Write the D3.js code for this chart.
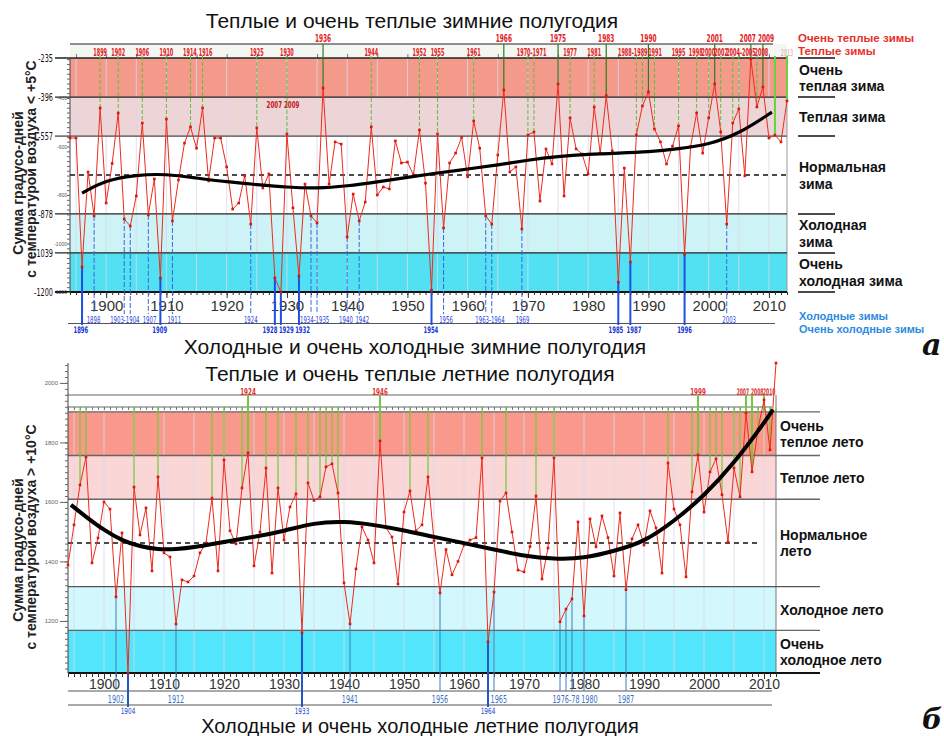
<!DOCTYPE html>
<html><head><meta charset="utf-8">
<script src="https://cdn.jsdelivr.net/npm/d3@7"></script>
<style>
body{margin:0;background:#fff;}
svg{display:block;font-family:"Liberation Sans",Arial,sans-serif;}
</style></head><body>
<svg id="chart" width="944" height="736"></svg>
<script>
// ---------- Winter half-years: degree-days with air temperature < +5°C ----------
const winterYears = d3.range(1894, 2014);
const winterValues = [
  -565, -565, -1097, -705, -886, -441, -833, -670, -462, -899,
  -928, -804, -503, -882, -734, -1142, -487, -907, -738, -586,
  -519, -607, -441, -742, -565, -565, -684, -858, -833, -721,
  -920, -523, -771, -713, -1142, -1200, -548, -853, -1134, -755,
  -886, -915, -359, -755, -581, -590, -973, -796, -907, -829,
  -519, -800, -767, -775, -577, -668, -664, -717, -532, -751,
  -1192, -548, -936, -668, -627, -562, -725, -495, -607, -886,
  -920, -635, -367, -705, -684, -940, -552, -540, -825, -610,
  -672, -342, -804, -482, -610, -631, -713, -437, -627, -390,
  -618, -1159, -689, -1076, -552, -433, -375, -528, -581, -672,
  -598, -515, -1045, -600, -462, -627, -482, -342, -540, -920,
  -503, -445, -721, -239, -437, -355, -565, -553, -581, -412
];
const winterTrendYears  = [1896, 1900, 1905, 1910, 1915, 1920, 1925, 1930, 1935, 1940, 1945, 1950, 1955, 1960, 1965, 1970, 1975, 1980, 1985, 1990, 1995, 2000, 2005, 2010.5];
const winterTrendValues = [-792, -738, -717, -713, -730, -746, -757, -768, -773, -763, -746, -727, -709, -693, -676, -656, -641, -632, -627, -622, -610, -592, -548, -458];
const winterBreaks = [-1200, -1039, -878, -557, -396, -235];
const winterMean = -717.5;
const winterMinorLabels = [-400, -600, -800, -1000, -1200];
const winterCategories = ["Очень|теплая зима", "Теплая зима", "Нормальная|зима", "Холодная|зима", "Очень|холодная зима"];
// [label, year the label is centred on]
const winterVeryWarmLabels = [["1936", 1936], ["1966", 1966], ["1975", 1975], ["1983", 1983], ["1990", 1990], ["2001", 2001], ["2007 2009", 2008]];
const winterWarmLabels = [["1899", 1899], ["1902", 1902], ["1906", 1906], ["1910", 1910], ["1914", 1913.9], ["1916", 1916.5], ["1925", 1925], ["1930", 1930], ["1944", 1944], ["1952", 1952], ["1955", 1955], ["1961", 1961], ["1970-1971", 1970.6], ["1977", 1977], ["1981", 1981], ["1988-1989", 1987.4], ["1991", 1991.1], ["1995", 1995], ["1998", 1997.85], ["2000", 1999.95], ["2002", 2002.05], ["2004-2005", 2005.35], ["2008", 2008.75]];
const winterRecentYears = [2011, 2013];
const winterColdLabels = [["1898", 1897.9], ["1903-1904", 1903.1], ["1907", 1907.2], ["1911", 1911.3], ["1924", 1924], ["1934-1935", 1934.6], ["1940", 1939.8], ["1942", 1942.5], ["1956", 1956.4], ["1963-1964", 1963.7], ["1969", 1969.1], ["2003", 2003.4]];
const winterVeryColdLabels = [["1896", 1895.8], ["1909", 1908.9], ["1928", 1927.2], ["1929", 1929.9], ["1932", 1932.6], ["1954", 1953.9], ["1985", 1984.6], ["1987", 1987.6], ["1996", 1996]];

// ---------- Summer half-years: degree-days with air temperature > +10°C ----------
const summerYears = d3.range(1894, 2013);
const summerValues = [
  1388, 1523, 1657, 1751, 1395, 1479, 1600, 1576, 1281, 1496,
  1025, 1650, 1489, 1580, 1368, 1684, 1429, 1415, 1190, 1338,
  1331, 1351, 1429, 1462, 1613, 1368, 1741, 1503, 1459, 1647,
  1765, 1385, 1499, 1714, 1361, 1647, 1472, 1583, 1627, 1160,
  1664, 1605, 1617, 1718, 1728, 1630, 1328, 1190, 1375, 1516,
  1472, 1395, 1805, 1513, 1482, 1324, 1566, 1637, 1503, 1523,
  1684, 1470, 1294, 1440, 1355, 1400, 1455, 1472, 1480, 1748,
  1130, 1297, 1603, 1630, 1499, 1371, 1365, 1450, 1620, 1341,
  1445, 1748, 1197, 1240, 1274, 1533, 1217, 1543, 1449, 1553,
  1480, 1351, 1563, 1305, 1476, 1523, 1455, 1570, 1513, 1361,
  1731, 1576, 1523, 1348, 1634, 1758, 1566, 1701, 1745, 1624,
  1465, 1714, 1617, 1899, 1701, 1845, 1943, 1775, 2067
];
const summerTrendYears  = [1894.5, 1897, 1900, 1903, 1906, 1909, 1912, 1915, 1920, 1925, 1930, 1935, 1940, 1945, 1950, 1955, 1960, 1965, 1970, 1975, 1980, 1985, 1990, 1995, 2000, 2005, 2010, 2011.5];
const summerTrendValues = [1590, 1550, 1505, 1470, 1450, 1440, 1441, 1447, 1466, 1482, 1502, 1530, 1535, 1523, 1505, 1482, 1462, 1440, 1418, 1408, 1410, 1435, 1465, 1535, 1620, 1730, 1865, 1910];
const summerBreaks = [1025, 1168, 1315, 1609, 1756, 1903];
const summerMean = 1462;
const summerTickLabels = [1200, 1400, 1600, 1800, 2000];
const summerCategories = ["Очень|теплое лето", "Теплое лето", "Нормальное|лето", "Холодное лето", "Очень|холодное лето"];
const summerVeryWarmLabels = [["1924", 1924], ["1946", 1946], ["1999", 1999], ["2007", 2007], ["2008", 2008], ["2010", 2010]];
const summerColdLabels = [["1902", 1902], ["1912", 1912], ["1941", 1941], ["1956", 1956], ["1965", 1965.8], ["1976-78", 1977], ["1980", 1980.9], ["1987", 1987]];
const summerVeryColdLabels = [["1904", 1904], ["1933", 1933], ["1964", 1964]];

const decades = d3.range(1900, 2011, 10);
const NARROW = "'Liberation Sans Narrow','DejaVu Sans Condensed','Liberation Sans',sans-serif";

const svg = d3.select("#chart");

function styleAxis(g, color, size) {
  g.select(".domain").remove();
  g.selectAll("line").attr("stroke", color);
  g.selectAll("text").attr("fill", color).attr("font-size", size);
}

// squeeze texts horizontally around their anchor point
function condense(sel, k) {
  sel.each(function () {
    const t = d3.select(this);
    const x = +t.attr("x") || 0, y = +t.attr("y") || 0;
    t.attr("x", null).attr("y", null).attr("transform", `translate(${x},${y}) scale(${k},1)`);
  });
}

function yearLabels(g, data, x, yPos, o) {
  return g.append("g").selectAll("text").data(data).join("text")
    .attr("font-family", NARROW)
    .attr("x", d => x(d[1]) + (o.dx ? o.dx(d) : 0)).attr("y", yPos)
    .attr("text-anchor", d => (o.anchor ? o.anchor(d) : "middle"))
    .attr("font-size", o.size).attr("font-weight", o.weight || "normal").attr("fill", o.color)
    .text(d => d[0]).call(condense, o.k);
}

// ================= WINTER PANEL =================
(function () {
  const x = d3.scaleLinear().domain([1894, 2013]).range([70, 787]);
  const y = d3.scaleLinear().domain([-1200, -235]).range([292, 58]);
  const g = svg.append("g");
  const [b0, b1, b2, b3, b4, b5] = winterBreaks;
  const bandFill = [[b4, b5, "#f39a8b"], [b3, b4, "#edd5d7"], [b1, b2, "#cdf3f6"], [b0, b1, "#52e1f2"]];
  const xL = x.range()[0], xR = x.range()[1];

  g.append("text").attr("x", 412).attr("y", 28).attr("text-anchor", "middle")
    .attr("font-size", 21).attr("fill", "#111").text("Теплые и очень теплые зимние полугодия");

  // label strip above the plot
  g.append("rect").attr("x", xL).attr("y", 44).attr("width", xR - xL).attr("height", y(b5) - 44).attr("fill", "#f3f6f1");
  g.append("line").attr("x1", xL).attr("x2", 773).attr("y1", 44).attr("y2", 44).attr("stroke", "#222").attr("stroke-width", 1.2);
  g.append("g").attr("transform", `translate(0,${y(b5)})`)
    .call(d3.axisTop(x).tickValues(d3.range(1895, 2013, 5)).tickSize(4).tickFormat(""))
    .call(s => styleAxis(s, "#777", 0));

  g.selectAll("rect.band").data(bandFill).join("rect").attr("class", "band")
    .attr("x", xL).attr("width", xR - xL)
    .attr("y", d => y(d[1])).attr("height", d => y(d[0]) - y(d[1])).attr("fill", d => d[2]);

  g.selectAll("line.grid").data(d3.range(1895, 2013, 5)).join("line").attr("class", "grid")
    .attr("x1", d => x(d)).attr("x2", d => x(d)).attr("y1", y(b5)).attr("y2", y(b0))
    .attr("stroke", "#d9d9ee").attr("stroke-width", 1).attr("opacity", 0.8);

  g.append("line").attr("x1", xR).attr("x2", xR).attr("y1", y(b4)).attr("y2", y(b0)).attr("stroke", "#999");

  // band boundaries
  const bandLines = [[b5, "#222", 1.4], [b4, "#222", 1.2], [b3, "#777", 1.6], [b2, "#222", 1.2], [b1, "#222", 1.2], [b0, "#111", 2]];
  g.selectAll("line.bl").data(bandLines).join("line").attr("class", "bl")
    .attr("x1", 55).attr("x2", xR).attr("y1", d => y(d[0])).attr("y2", d => y(d[0]))
    .attr("stroke", d => d[1]).attr("stroke-width", d => d[2]);

  // left axis
  g.append("line").attr("x1", xL).attr("x2", xL).attr("y1", y(b5)).attr("y2", y(b0)).attr("stroke", "#444");
  g.append("g").attr("transform", `translate(${xL},0)`)
    .call(d3.axisLeft(y).tickValues(d3.range(-1200, -235, 20)).tickSize(3).tickFormat(""))
    .call(s => styleAxis(s, "#666", 0));
  g.append("g").attr("transform", `translate(${xL},0)`)
    .call(d3.axisLeft(y).tickValues(winterBreaks).tickSize(0).tickPadding(17).tickFormat(d => d))
    .call(s => styleAxis(s, "#111", 11))
    .selectAll("text").attr("font-family", NARROW).call(condense, 0.66);
  g.append("g").attr("transform", `translate(${xL},0)`)
    .call(d3.axisLeft(y).tickValues(winterMinorLabels).tickSize(0).tickPadding(3).tickFormat(d => d))
    .call(s => styleAxis(s, "#555", 5));

  // bottom axis
  g.append("g").attr("transform", `translate(0,${y(b0)})`)
    .call(d3.axisBottom(x).tickValues(d3.range(1894, 2014)).tickSize(3).tickFormat(""))
    .call(s => styleAxis(s, "#333", 0));
  g.append("g").attr("transform", `translate(0,${y(b0)})`)
    .call(d3.axisBottom(x).tickValues(decades).tickSize(6).tickPadding(2).tickFormat(d3.format("d")))
    .call(s => styleAxis(s, "#333", 15));
  g.append("line").attr("x1", 68).attr("x2", 775).attr("y1", 323.5).attr("y2", 323.5).attr("stroke", "#555");

  // mean
  g.append("line").attr("x1", xL).attr("x2", xR).attr("y1", y(winterMean)).attr("y2", y(winterMean))
    .attr("stroke", "#111").attr("stroke-width", 1.6).attr("stroke-dasharray", "5,4");

  const pts = winterYears.map((yr, i) => [yr, winterValues[i]]);
  const upperSet = new Set([1936, 1966, 1975, 1983, 1990, 2001, 2007, 2009]);

  // guide lines of warm winters
  g.selectAll("line.warm").data(pts.filter(d => d[1] > b3 && !winterRecentYears.includes(d[0]))).join("line").attr("class", "warm")
    .attr("x1", d => x(d[0])).attr("x2", d => x(d[0]))
    .attr("y1", d => upperSet.has(d[0]) ? 44 : 56).attr("y2", d => y(d[1]))
    .attr("stroke", d => upperSet.has(d[0]) ? "#2f7a1f" : "#5fbf3a")
    .attr("stroke-width", d => upperSet.has(d[0]) ? 1.2 : 1)
    .attr("stroke-dasharray", d => upperSet.has(d[0]) ? null : "4,2");
  g.selectAll("line.recent").data(pts.filter(d => winterRecentYears.includes(d[0]))).join("line").attr("class", "recent")
    .attr("x1", d => x(d[0])).attr("x2", d => x(d[0])).attr("y1", 56).attr("y2", d => y(d[1]))
    .attr("stroke", "#66d43a").attr("stroke-width", 2);

  // guide lines of cold winters
  g.selectAll("line.cold").data(pts.filter(d => d[1] < b2 && d[1] >= b1)).join("line").attr("class", "cold")
    .attr("x1", d => x(d[0])).attr("x2", d => x(d[0])).attr("y1", d => y(d[1])).attr("y2", 314)
    .attr("stroke", "#3a66e0").attr("stroke-width", 1).attr("stroke-dasharray", "5,2");
  g.selectAll("line.vcold").data(pts.filter(d => d[1] < b1)).join("line").attr("class", "vcold")
    .attr("x1", d => x(d[0])).attr("x2", d => x(d[0])).attr("y1", d => y(d[1])).attr("y2", 325)
    .attr("stroke", "#1f4fe0").attr("stroke-width", 2);

  // series
  g.append("path").attr("d", d3.line().x(d => x(d[0])).y(d => y(d[1]))(pts))
    .attr("fill", "none").attr("stroke", "#ee2b1c").attr("stroke-width", 1);
  g.selectAll("rect.pt").data(pts).join("rect").attr("class", "pt")
    .attr("x", d => x(d[0]) - 1.3).attr("y", d => y(d[1]) - 1.3).attr("width", 2.6).attr("height", 2.6).attr("fill", "#dd1510");

  // trend
  const trend = winterTrendYears.map((yr, i) => [yr, winterTrendValues[i]]);
  g.append("path").attr("d", d3.line().x(d => x(d[0])).y(d => y(d[1])).curve(d3.curveBasis)(trend))
    .attr("fill", "none").attr("stroke", "#000").attr("stroke-width", 3.2);

  // year labels
  yearLabels(g, winterVeryWarmLabels, x, 42, { size: 10.5, weight: "bold", color: "#e3201e", k: 0.62 });
  yearLabels(g, winterWarmLabels, x, 55.5, { size: 10, weight: "bold", color: "#e3201e", k: 0.55 });
  yearLabels(g, [["2013", 2013]], x, 55.5, { size: 9, color: "#d9a0a0", k: 0.6 });
  g.append("text").attr("font-family", NARROW).attr("x", 283).attr("y", 108).attr("text-anchor", "middle")
    .attr("font-size", 9.5).attr("font-weight", "bold").attr("fill", "#c0181c").text("2007 2009").call(condense, 0.65);
  yearLabels(g, winterColdLabels, x, 323, { size: 9.5, color: "#2a46e0", k: 0.63 });
  yearLabels(g, winterVeryColdLabels, x, 333.2, { size: 9, weight: "bold", color: "#2036d0", k: 0.66 });

  // right-hand category labels
  g.selectAll("line.cl").data(winterBreaks).join("line").attr("class", "cl")
    .attr("x1", 798).attr("x2", 835).attr("y1", d => y(d)).attr("y2", d => y(d)).attr("stroke", "#111").attr("stroke-width", 1.5);
  const cats = winterCategories.map((t, i) => [t, (y(winterBreaks[5 - i]) + y(winterBreaks[4 - i])) / 2]);
  cats.forEach(([t, cy]) => {
    const parts = t.split("|");
    const y0 = parts.length === 1 ? cy + 5 : cy - 3;
    parts.forEach((p, j) => g.append("text").attr("x", 799).attr("y", y0 + j * 16.5)
      .attr("font-size", 14).attr("font-weight", "bold").attr("fill", "#111").text(p));
  });
  g.append("text").attr("x", 798).attr("y", 41.5).attr("font-size", 11.5).attr("font-weight", "bold").attr("fill", "#e8302a").text("Очень теплые зимы");
  g.append("text").attr("x", 798).attr("y", 54.5).attr("font-size", 11.5).attr("font-weight", "bold").attr("fill", "#e8302a").text("Теплые зимы");
  g.append("text").attr("x", 799).attr("y", 320).attr("font-size", 11).attr("font-weight", "bold").attr("fill", "#2a8be0").text("Холодные зимы");
  g.append("text").attr("x", 799).attr("y", 333).attr("font-size", 11).attr("font-weight", "bold").attr("fill", "#2a8be0").text("Очень холодные зимы");

  g.append("text").attr("x", 415).attr("y", 354.3).attr("text-anchor", "middle")
    .attr("font-size", 21).attr("fill", "#111").text("Холодные и очень холодные зимние полугодия");
  g.append("text").attr("transform", "translate(23,183) rotate(-90)").attr("text-anchor", "middle")
    .attr("font-size", 14).attr("font-weight", "bold").attr("fill", "#222").text("Сумма градусо-дней");
  g.append("text").attr("transform", "translate(36,169) rotate(-90)").attr("text-anchor", "middle")
    .attr("font-size", 14).attr("font-weight", "bold").attr("fill", "#222").text("с температурой воздуха < +5°C");
  g.append("text").attr("x", 922).attr("y", 355).attr("font-family", "DejaVu Serif, serif").attr("font-style", "italic")
    .attr("font-weight", "bold").attr("font-size", 30).attr("fill", "#111").text("а");
})();

// ================= SUMMER PANEL =================
(function () {
  const x = d3.scaleLinear().domain([1894, 2012]).range([68, 776]);
  const y = d3.scaleLinear().domain([1025, 2067]).range([673, 363]);
  const g = svg.append("g");
  const [b0, b1, b2, b3, b4, b5] = summerBreaks;
  const xL = 68, xR = 776;
  const bandFill = [[b4, b5, "#f8998b"], [b3, b4, "#fbd6d6"], [b1, b2, "#d2f7fd"], [b0, b1, "#53e5fb"]];

  g.append("text").attr("x", 410).attr("y", 381).attr("text-anchor", "middle")
    .attr("font-size", 21).attr("fill", "#111").text("Теплые и очень теплые летние полугодия");

  g.selectAll("rect.band").data(bandFill).join("rect").attr("class", "band")
    .attr("x", xL).attr("width", xR - xL)
    .attr("y", d => y(d[1])).attr("height", d => y(d[0]) - y(d[1])).attr("fill", d => d[2]);

  g.selectAll("line.grid").data(d3.range(1895, 2012, 5)).join("line").attr("class", "grid")
    .attr("x1", d => x(d)).attr("x2", d => x(d)).attr("y1", 407).attr("y2", y(b0))
    .attr("stroke", "#d9d9ee").attr("opacity", 0.8);

  // strip lines above
  [395, 407].forEach(v => g.append("line").attr("x1", xL).attr("x2", 772).attr("y1", v).attr("y2", v).attr("stroke", "#666").attr("stroke-width", 1.2));
  g.append("g").attr("transform", "translate(0,407)")
    .call(d3.axisBottom(x).tickValues(d3.range(1894, 2012)).tickSize(3).tickFormat(""))
    .call(s => styleAxis(s, "#777", 0));

  g.append("line").attr("x1", xR).attr("x2", xR).attr("y1", 395).attr("y2", y(b0)).attr("stroke", "#777");

  const bandLines = [[b5, "#666", 1.3], [b4, "#666", 1.3], [b3, "#666", 1.3], [b2, "#555", 1.3], [b1, "#666", 1.3], [b0, "#111", 2]];
  g.selectAll("line.bl").data(bandLines).join("line").attr("class", "bl")
    .attr("x1", xL).attr("x2", 820).attr("y1", d => y(d[0])).attr("y2", d => y(d[0]))
    .attr("stroke", d => d[1]).attr("stroke-width", d => d[2]);

  // left axis
  g.append("line").attr("x1", xL).attr("x2", xL).attr("y1", 363).attr("y2", y(b0)).attr("stroke", "#444");
  g.append("g").attr("transform", `translate(${xL},0)`)
    .call(d3.axisLeft(y).tickValues(d3.range(1040, 2061, 20)).tickSize(3).tickFormat(""))
    .call(s => styleAxis(s, "#666", 0));
  g.append("g").attr("transform", `translate(${xL},0)`)
    .call(d3.axisLeft(y).tickValues(summerTickLabels).tickSize(8).tickPadding(2).tickFormat(d => d))
    .call(s => styleAxis(s, "#666", 6));

  // bottom axis
  g.append("g").attr("transform", `translate(0,${y(b0)})`)
    .call(d3.axisBottom(x).tickValues(d3.range(1894, 2013)).tickSize(4).tickFormat(""))
    .call(s => styleAxis(s, "#333", 0));
  g.append("g").attr("transform", `translate(0,${y(b0)})`)
    .call(d3.axisBottom(x).tickValues(decades).tickSize(6).tickPadding(0.5).tickFormat(d3.format("d")))
    .call(s => styleAxis(s, "#333", 14));
  [691, 705].forEach(v => g.append("line").attr("x1", xL).attr("x2", 772).attr("y1", v).attr("y2", v).attr("stroke", "#555"));

  // mean
  g.append("line").attr("x1", xL).attr("x2", 758).attr("y1", y(summerMean)).attr("y2", y(summerMean))
    .attr("stroke", "#111").attr("stroke-width", 1.5).attr("stroke-dasharray", "5,4");

  const pts = summerYears.map((yr, i) => [yr, summerValues[i]]);
  const labelled = new Set(summerVeryWarmLabels.map(d => d[1]));

  g.selectAll("line.warm").data(pts.filter(d => d[1] >= b3)).join("line").attr("class", "warm")
    .attr("x1", d => x(d[0])).attr("x2", d => x(d[0]))
    .attr("y1", d => labelled.has(d[0]) ? 395 : 407).attr("y2", d => y(Math.min(d[1], b5)))
    .attr("stroke", "#74c93a").attr("stroke-width", d => labelled.has(d[0]) ? 2 : 1.2);

  g.selectAll("line.cold").data(pts.filter(d => d[1] < b2 && d[1] >= b1)).join("line").attr("class", "cold")
    .attr("x1", d => x(d[0])).attr("x2", d => x(d[0])).attr("y1", d => y(d[1])).attr("y2", 691)
    .attr("stroke", "#3d7cb8").attr("stroke-width", 1);
  g.selectAll("line.vcold").data(pts.filter(d => d[1] < b1)).join("line").attr("class", "vcold")
    .attr("x1", d => x(d[0])).attr("x2", d => x(d[0])).attr("y1", d => y(d[1])).attr("y2", 707)
    .attr("stroke", "#2456c8").attr("stroke-width", 2);

  g.append("path").attr("d", d3.line().x(d => x(d[0])).y(d => y(d[1]))(pts))
    .attr("fill", "none").attr("stroke", "#ee2b1c").attr("stroke-width", 1);
  g.selectAll("rect.pt").data(pts).join("rect").attr("class", "pt")
    .attr("x", d => x(d[0]) - 1.3).attr("y", d => y(d[1]) - 1.3).attr("width", 2.6).attr("height", 2.6).attr("fill", "#dd1510");

  const trend = summerTrendYears.map((yr, i) => [yr, summerTrendValues[i]]);
  g.append("path").attr("d", d3.line().x(d => x(d[0])).y(d => y(d[1])).curve(d3.curveBasis)(trend))
    .attr("fill", "none").attr("stroke", "#000").attr("stroke-width", 4);

  const anchorOf = { "2007": "end", "2008": "start", "2010": "start" };
  yearLabels(g, summerVeryWarmLabels.filter(d => !anchorOf[d[0]]), x, 394.5, { size: 9.5, weight: "bold", color: "#e03030", k: 0.66 });
  yearLabels(g, summerVeryWarmLabels.filter(d => anchorOf[d[0]]), x, 394.5, {
    size: 9, weight: "bold", color: "#e03030", k: 0.55,
    anchor: d => anchorOf[d[0]], dx: d => (anchorOf[d[0]] === "end" ? 3 : -1)
  });
  yearLabels(g, summerColdLabels, x, 703, { size: 10, color: "#3a6fc8", k: 0.72 });
  yearLabels(g, summerVeryColdLabels, x, 714, { size: 8.5, color: "#2244cc", k: 0.75 });

  const cats = summerCategories.map((t, i) => [t, (y(summerBreaks[5 - i]) + y(summerBreaks[4 - i])) / 2]);
  cats.forEach(([t, cy]) => {
    const parts = t.split("|");
    const y0 = parts.length === 1 ? cy + 6 : cy - 3;
    parts.forEach((p, j) => g.append("text").attr("x", 780).attr("y", y0 + j * 16.5)
      .attr("font-size", 14).attr("font-weight", "bold").attr("fill", "#111").text(p));
  });

  g.append("text").attr("x", 420).attr("y", 732.5).attr("text-anchor", "middle")
    .attr("font-size", 20).attr("fill", "#111").text("Холодные и очень холодные летние полугодия");
  g.append("text").attr("transform", "translate(23,550) rotate(-90)").attr("text-anchor", "middle")
    .attr("font-size", 14).attr("font-weight", "bold").attr("fill", "#222").text("Сумма градусо-дней");
  g.append("text").attr("transform", "translate(36,537) rotate(-90)").attr("text-anchor", "middle")
    .attr("font-size", 14).attr("font-weight", "bold").attr("fill", "#222").text("с температурой воздуха > +10°C");
  g.append("text").attr("x", 922).attr("y", 729).attr("font-family", "DejaVu Serif, serif").attr("font-style", "italic")
    .attr("font-weight", "bold").attr("font-size", 28).attr("fill", "#111").text("б");
})();
</script>
</body></html>
